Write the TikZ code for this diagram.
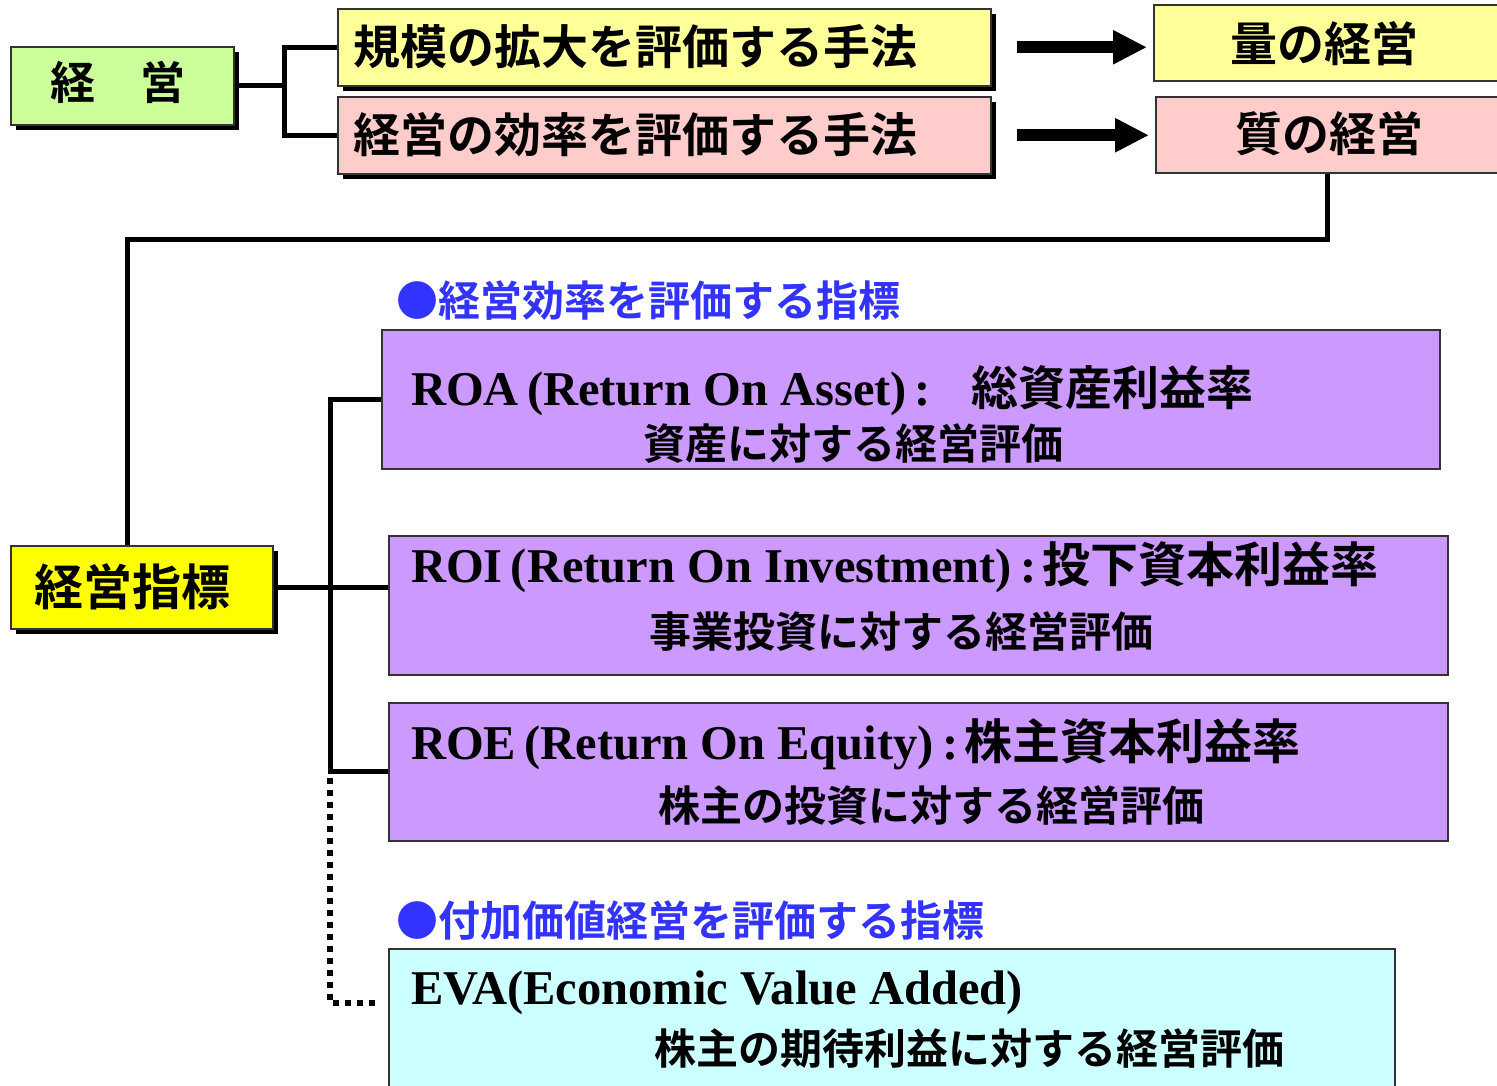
\documentclass[tikz,border=0pt]{standalone}
\usepackage{fontspec}
\setmainfont{Liberation Serif}
\newfontfamily\jp{Noto Sans CJK JP}[BoldFont={* Bold}]
\usetikzlibrary{shadows,arrows.meta}
\newcommand\fs[1]{\fontsize{#1}{#1}\selectfont}
\definecolor{cgreen}{HTML}{CCFF99}
\definecolor{cyel}{HTML}{FFFF99}
\definecolor{cpink}{HTML}{FFCCCC}
\definecolor{cpurp}{HTML}{CC99FF}
\definecolor{cyel2}{HTML}{FFFF00}
\definecolor{ccyan}{HTML}{CCFFFF}
\definecolor{cblue}{HTML}{3333FF}
\tikzset{
  box/.style={draw=black!80, line width=1.5pt, inner sep=0pt, anchor=north west},
  sbox/.style={box, drop shadow={shadow xshift=5pt, shadow yshift=-5pt, fill=black, opacity=1}},
  conn/.style={line width=5pt, draw=black},
  dotline/.style={line width=6pt, draw=black, dash pattern=on 6pt off 6pt},
  bigarrow/.style={line width=12pt, draw=black, -{Triangle[length=34pt,width=32pt]}},
  jt/.style={anchor=base west, inner sep=0pt, font=\jp\bfseries},
  mt/.style={anchor=base west, inner sep=0pt, font=\bfseries\fs{48.5}},
  head/.style={jt, text=cblue},
}
\begin{document}
\begin{tikzpicture}[x=1pt,y=-1pt]
\useasboundingbox (0,0) rectangle (1497,1085);
% top row boxes
\node[sbox, fill=cgreen, minimum width=223pt, minimum height=78pt] (keiei) at (10,46) {};
\node[sbox, fill=cyel, minimum width=653pt, minimum height=77pt] (kibo) at (337,8) {};
\node[sbox, fill=cpink, minimum width=653pt, minimum height=77pt] (kouritsu) at (337,96) {};
\node[box, fill=cyel, minimum width=346pt, minimum height=76pt] (ryou) at (1153,4) {};
\node[box, fill=cpink, minimum width=344pt, minimum height=76pt] (shitsu) at (1155,96) {};
% index box
\node[sbox, fill=cyel2, minimum width=262pt, minimum height=83pt] (shihyou) at (10,545) {};
% indicator boxes
\node[box, fill=cpurp, minimum width=1058pt, minimum height=139pt] (roa) at (381,329) {};
\node[box, fill=cpurp, minimum width=1059pt, minimum height=139pt] (roi) at (388,535) {};
\node[box, fill=cpurp, minimum width=1059pt, minimum height=138pt] (roe) at (388,702) {};
\node[box, fill=ccyan, minimum width=1006pt, minimum height=150pt] (eva) at (388,948) {};

% texts
\node[jt, font=\jp\bfseries\fs{45}] (tkeiei) at (50,99) {経　営};
\node[jt, font=\jp\bfseries\fs{47}] (tkibo) at (353,64) {規模の拡大を評価する手法};
\node[jt, font=\jp\bfseries\fs{47}] (tkour) at (353,152) {経営の効率を評価する手法};
\node[jt, font=\jp\bfseries\fs{47}] (tryou) at (1230,61) {量の経営};
\node[jt, font=\jp\bfseries\fs{47}] (tshitsu) at (1235,151) {質の経営};
\node[jt, font=\jp\bfseries\fs{49}] (tshihyou) at (34,605) {経営指標};
\node[head, font=\jp\bfseries\fs{42}] (h1) at (396,316) {●経営効率を評価する指標};
\node[head, font=\jp\bfseries\fs{42}] (h2) at (396,936) {●付加価値経営を評価する指標};

\node[mt] (troa1) at (411,405) {ROA\,(Return On Asset)\,:\kern40pt{\jp\bfseries\fs{47}総資産利益率}};
\node[jt, font=\jp\bfseries\fs{42}] (troa2) at (643,459) {資産に対する経営評価};
\node[mt] (troi1) at (411,582) {ROI\,(Return On Investment)\,:\kern6pt{\jp\bfseries\fs{48}投下資本利益率}};
\node[jt, font=\jp\bfseries\fs{42}] (troi2) at (649,647) {事業投資に対する経営評価};
\node[mt] (troe1) at (411,759) {ROE\,(Return On Equity)\,:\kern6pt{\jp\bfseries\fs{48}株主資本利益率}};
\node[jt, font=\jp\bfseries\fs{42}] (troe2) at (658,821) {株主の投資に対する経営評価};
\node[mt] (teva1) at (411,1004) {EVA(Economic Value Added)};
\node[jt, font=\jp\bfseries\fs{42}] (teva2) at (654,1064) {株主の期待利益に対する経営評価};

% connectors
\draw[conn] (kibo.west) -- ++(-53,0) |- (keiei.east);
\draw[conn] (kouritsu.west) -- ++(-53,0) |- (keiei.east);
\draw[bigarrow] ([xshift=25pt]kibo.east) -- ([xshift=-6pt]kibo.east -| ryou.west);
\draw[bigarrow] ([xshift=25pt]kouritsu.east) -- ([xshift=-6pt]kouritsu.east -| shitsu.west);
\coordinate (shtop) at ([xshift=117pt]shihyou.north west);
\draw[conn] (shitsu.south) -- ++(0,66) -| (shtop);
\draw[conn] (shihyou.east) -- (shihyou.east -| roi.west);
\draw[conn] (roa.west) -- ++(-51,0) |- (roe.west);
\coordinate (evadot) at (375,1003);
\draw[dotline] ([xshift=-58pt,yshift=-6pt]roe.west) |- (evadot);
\end{tikzpicture}
\end{document}
